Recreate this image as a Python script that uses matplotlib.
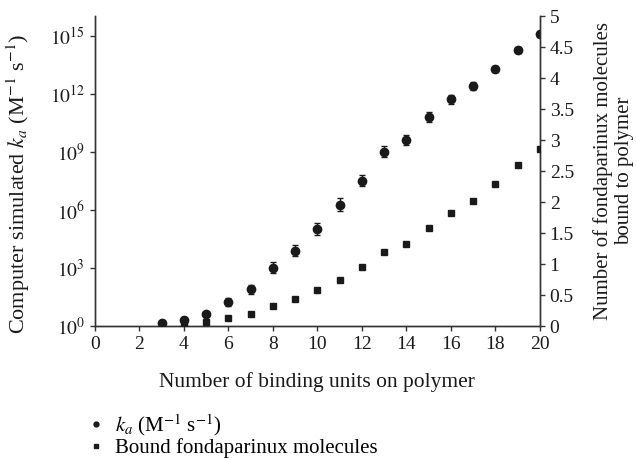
import numpy as np
import matplotlib.pyplot as plt

plt.rcParams['font.family'] = ['Liberation Serif', 'DejaVu Serif']
plt.rcParams['mathtext.fontset'] = 'stix'

# data
units = [3, 4, 5, 6, 7, 8, 9, 10, 11, 12, 13, 14, 15, 16, 17, 18, 19, 20]
log_ka = [0.15, 0.3, 0.6, 1.26, 1.9, 3.02, 3.9, 5.03, 6.28, 7.52, 9.02, 9.62,
          10.81, 11.73, 12.42, 13.28, 14.26, 15.12]
log_ka_err = [0.08, 0.08, 0.1, 0.2, 0.25, 0.3, 0.3, 0.3, 0.33, 0.3, 0.28, 0.26,
              0.24, 0.23, 0.2, 0.15, 0.15, 0.15]
bound = [0.02, 0.03, 0.06, 0.13, 0.2, 0.33, 0.44, 0.59, 0.74, 0.95, 1.19, 1.33,
         1.58, 1.83, 2.02, 2.29, 2.59, 2.85]

x_ticks = [0, 2, 4, 6, 8, 10, 12, 14, 16, 18, 20]
left_ticks = [1e0, 1e3, 1e6, 1e9, 1e12, 1e15]
right_ticks = [0, 0.5, 1, 1.5, 2, 2.5, 3, 3.5, 4, 4.5, 5]

col = '#1a1a1a'

ka = 10 ** np.array(log_ka)
err = np.array(log_ka_err)
yerr = [ka - ka * 10 ** (-err), ka * 10 ** err - ka]

fig = plt.figure(figsize=(6.36, 4.58), dpi=100)
ax = fig.add_axes([0.149, 0.288, 0.700, 0.677])
ax2 = ax.twinx()

ax.errorbar(units, ka, yerr=yerr, fmt='o', color=col, ms=6, capsize=2.5,
            elinewidth=1, capthick=1, zorder=3)
ax2.plot(units, bound, 's', color=col, ms=5, zorder=3)

ax.set_yscale('log')
ax.set_ylim(1, 10 ** 16.03)
ax.set_xlim(0, 20)
ax2.set_ylim(0, 5)
ax.set_xticks(x_ticks)
ax.set_yticks(left_ticks)
ax.set_yticklabels(['$10^{%d}$' % int(np.log10(v)) for v in left_ticks])
ax.yaxis.set_minor_locator(plt.NullLocator())
ax2.set_yticks(right_ticks)
ax2.set_yticklabels(['%g' % v for v in right_ticks])

for a in (ax, ax2):
    a.spines['top'].set_visible(False)
    for s in a.spines.values():
        s.set_color('#333333')
        s.set_linewidth(1)
    a.tick_params(direction='out', length=3.5, width=1, colors='#333333',
                  labelcolor=col, labelsize=14)

ax.set_xlabel('Number of binding units on polymer', fontsize=15.5, color=col,
              labelpad=14)
ax.set_ylabel('Computer simulated $k_a$ (M$^{-1}$ s$^{-1}$)', fontsize=16,
              color=col)
ax.yaxis.set_label_coords(-0.14, 0.46)
ax2.set_ylabel('Number of fondaparinux molecules\nbound to polymer',
               fontsize=15, color=col, linespacing=1.1)
ax2.yaxis.set_label_coords(1.12, 0.5)

h1 = plt.Line2D([], [], marker='o', ls='none', color=col, ms=3.5)
h2 = plt.Line2D([], [], marker='s', ls='none', color=col, ms=3)
fig.legend([h1, h2], ['$k_a$ (M$^{-1}$ s$^{-1}$)', 'Bound fondaparinux molecules'],
           loc='upper left', bbox_to_anchor=(0.138, 0.1), frameon=False,
           fontsize=15, handlelength=0.8, handletextpad=0.5, labelspacing=0.0,
           borderaxespad=0, borderpad=0)

fig.savefig('out.png', dpi=100)
